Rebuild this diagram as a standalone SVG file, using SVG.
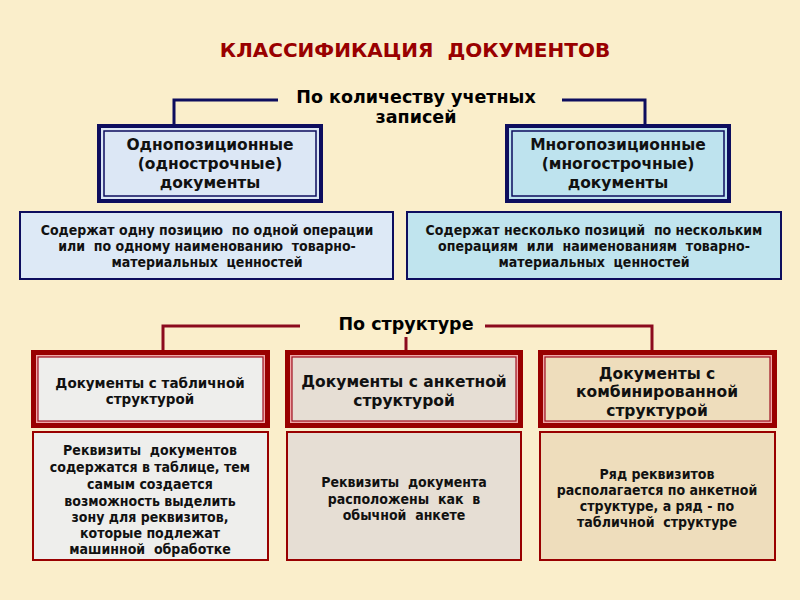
<svg xmlns="http://www.w3.org/2000/svg" width="800" height="600" viewBox="0 0 800 600">
<defs>
<style>
text{white-space:pre}
.title{font-family:"DejaVu Sans",Verdana,sans-serif;font-weight:bold;font-size:20px;fill:#990000;text-anchor:middle}
.hdr{font-family:"DejaVu Sans",Verdana,sans-serif;font-weight:bold;font-size:17.5px;fill:#000;text-anchor:middle}
.tb{font-family:"DejaVu Sans",Verdana,sans-serif;font-weight:bold;font-size:15.5px;fill:#111;text-anchor:middle}
.cd{font-family:"DejaVu Sans Condensed","DejaVu Sans",sans-serif;font-stretch:condensed;font-weight:bold;font-size:14px;fill:#111;text-anchor:middle}
.navy{stroke:#0D0D5E;stroke-width:3;fill:none}
.red{stroke:#8B0A1E;stroke-width:3;fill:none}
</style>
</defs>
<rect width="800" height="600" fill="#FAEECB"/>

<text class="title" x="415" y="57">КЛАССИФИКАЦИЯ  ДОКУМЕНТОВ</text>

<g id="connectors">
<polyline class="navy" points="174,124 174,100 278,100"/>
<polyline class="navy" points="562,100 645,100 645,124"/>
<polyline class="red" points="163,350 163,326 300,326"/>
<polyline class="red" points="485,326 652,326 652,350"/>
<line class="red" x1="406" y1="337" x2="406" y2="350"/>
</g>

<g id="label-count">
<text class="hdr" x="416" y="103">По количеству учетных</text>
<text class="hdr" x="416" y="123">записей</text>
</g>
<g id="label-struct">
<text class="hdr" x="406" y="330">По структуре</text>
</g>

<g id="single">
<rect x="97" y="124" width="226" height="79" fill="#0D0D5E"/>
<rect x="101" y="128" width="218" height="71" fill="#DCE7F5"/>
<rect x="104" y="131" width="212" height="65" fill="none" stroke="#0D0D5E" stroke-width="1.5"/>
<text class="tb" x="210" y="150">Однопозиционные</text>
<text class="tb" x="210" y="169">(однострочные)</text>
<text class="tb" x="210" y="188">документы</text>
</g>
<g id="multi">
<rect x="505" y="124" width="226" height="79" fill="#0D0D5E"/>
<rect x="509" y="128" width="218" height="71" fill="#BEE3EE"/>
<rect x="512" y="131" width="212" height="65" fill="none" stroke="#0D0D5E" stroke-width="1.5"/>
<text class="tb" x="618" y="150">Многопозиционные</text>
<text class="tb" x="618" y="169">(многострочные)</text>
<text class="tb" x="618" y="188">документы</text>
</g>

<g id="single-desc">
<rect x="20" y="212" width="373" height="67" fill="#DDE9F6" stroke="#0D0D5E" stroke-width="2"/>
<text class="cd" x="207" y="235">Содержат одну позицию  по одной операции</text>
<text class="cd" x="207" y="251">или  по одному наименованию  товарно-</text>
<text class="cd" x="207" y="267">материальных  ценностей</text>
</g>
<g id="multi-desc">
<rect x="407" y="212" width="374" height="67" fill="#C0E4EE" stroke="#0D0D5E" stroke-width="2"/>
<text class="cd" x="594" y="235">Содержат несколько позиций  по нескольким</text>
<text class="cd" x="594" y="251">операциям  или  наименованиям  товарно-</text>
<text class="cd" x="594" y="267">материальных  ценностей</text>
</g>

<g id="table">
<rect x="31" y="350" width="239" height="78" fill="#990000"/>
<rect x="36" y="355" width="229" height="68" fill="#F0A8A8"/>
<rect x="38" y="357" width="225" height="64" fill="#EEEEEC" stroke="#A01020" stroke-width="1.2"/>
<text class="tb" x="150" y="388" style="font-size:13.5px">Документы с табличной</text>
<text class="tb" x="150" y="404" style="font-size:13.5px">структурой</text>
</g>
<g id="anketa">
<rect x="285" y="350" width="238" height="78" fill="#990000"/>
<rect x="290" y="355" width="228" height="68" fill="#F0A8A8"/>
<rect x="292" y="357" width="224" height="64" fill="#E6DED4" stroke="#A01020" stroke-width="1.2"/>
<text class="tb" x="404" y="387">Документы с анкетной</text>
<text class="tb" x="404" y="406">структурой</text>
</g>
<g id="combined">
<rect x="538" y="350" width="239" height="78" fill="#990000"/>
<rect x="543" y="355" width="229" height="68" fill="#F0A8A8"/>
<rect x="545" y="357" width="225" height="64" fill="#EEDDBC" stroke="#A01020" stroke-width="1.2"/>
<text class="tb" x="657" y="379">Документы с</text>
<text class="tb" x="657" y="397">комбинированной</text>
<text class="tb" x="657" y="416">структурой</text>
</g>

<g id="table-desc">
<rect x="33" y="432" width="235" height="128" fill="#EEEEEC" stroke="#990000" stroke-width="2"/>
<text class="cd" x="150" y="455">Реквизиты  документов</text>
<text class="cd" x="150" y="472">содержатся в таблице, тем</text>
<text class="cd" x="150" y="489">самым создается</text>
<text class="cd" x="150" y="506">возможность выделить</text>
<text class="cd" x="150" y="522">зону для реквизитов,</text>
<text class="cd" x="150" y="538">которые подлежат</text>
<text class="cd" x="150" y="554">машинной  обработке</text>
</g>
<g id="anketa-desc">
<rect x="287" y="432" width="234" height="128" fill="#E6DED4" stroke="#990000" stroke-width="2"/>
<text class="cd" x="404" y="487">Реквизиты  документа</text>
<text class="cd" x="404" y="504">расположены  как  в</text>
<text class="cd" x="404" y="520">обычной  анкете</text>
</g>
<g id="combined-desc">
<rect x="540" y="432" width="235" height="128" fill="#EEDDBC" stroke="#990000" stroke-width="2"/>
<text class="cd" x="657" y="479">Ряд реквизитов</text>
<text class="cd" x="657" y="495">располагается по анкетной</text>
<text class="cd" x="657" y="511">структуре, а ряд - по</text>
<text class="cd" x="657" y="527">табличной  структуре</text>
</g>
</svg>
